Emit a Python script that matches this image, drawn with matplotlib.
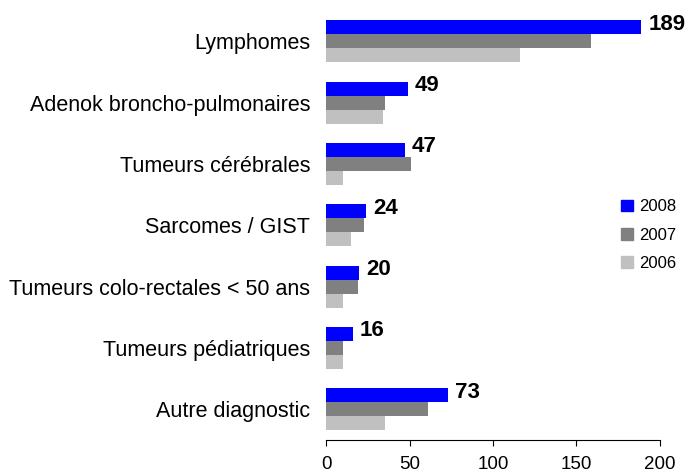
import numpy as np
import matplotlib
matplotlib.use("Agg")
import matplotlib.pyplot as plt
from matplotlib.patches import Patch

plt.rcParams['font.family'] = ['Liberation Sans', 'DejaVu Sans']

categories = ["Lymphomes", "Adenok broncho-pulmonaires", "Tumeurs cérébrales",
              "Sarcomes / GIST", "Tumeurs colo-rectales < 50 ans",
              "Tumeurs pédiatriques", "Autre diagnostic"]
v2008 = [189, 49, 47, 24, 20, 16, 73]
v2007 = [159, 35, 51, 23, 19, 10, 61]
v2006 = [116, 34, 10, 15, 10, 10, 35]
series = ["2008", "2007", "2006"]
colors = ["#0000FF", "#808080", "#C0C0C0"]

fig = plt.figure(figsize=(6.88, 4.75), dpi=100)
ax = fig.add_axes([0.474, 0.0737, 0.485, 0.904])

y = np.arange(len(categories))
h = 0.228
ax.barh(y - h, v2008, height=h, color=colors[0])
ax.barh(y, v2007, height=h, color=colors[1])
ax.barh(y + h, v2006, height=h, color=colors[2])

# value labels for 2008
for yi, v in zip(y, v2008):
    ax.annotate(str(v), (v, yi - h), xytext=(7, 3), textcoords="offset pixels",
                ha="left", va="center", fontsize=16, fontweight="bold")

ax.set_xlim(0, 200)
ax.set_ylim(6.5, -0.5)
ax.set_xticks([0, 50, 100, 150, 200])
ax.set_yticks(y)
ax.set_yticklabels(categories, fontsize=15.5)
ax.tick_params(axis="y", length=0, pad=11.5)
ax.tick_params(axis="x", direction="out", length=4.3, width=0.8, pad=7,
               labelsize=13.5)
for s in ["top", "right", "left"]:
    ax.spines[s].set_visible(False)
ax.spines["bottom"].set_linewidth(0.8)

handles = [Patch(color=c, label=l) for c, l in zip(colors, series)]
fig.legend(handles=handles, loc="center left", bbox_to_anchor=(0.903, 0.505),
           frameon=False, fontsize=12, handlelength=0.7, handleheight=0.7,
           handletextpad=0.35, labelspacing=0.8, borderpad=0, borderaxespad=0)

fig.savefig("out.png", dpi=100)
